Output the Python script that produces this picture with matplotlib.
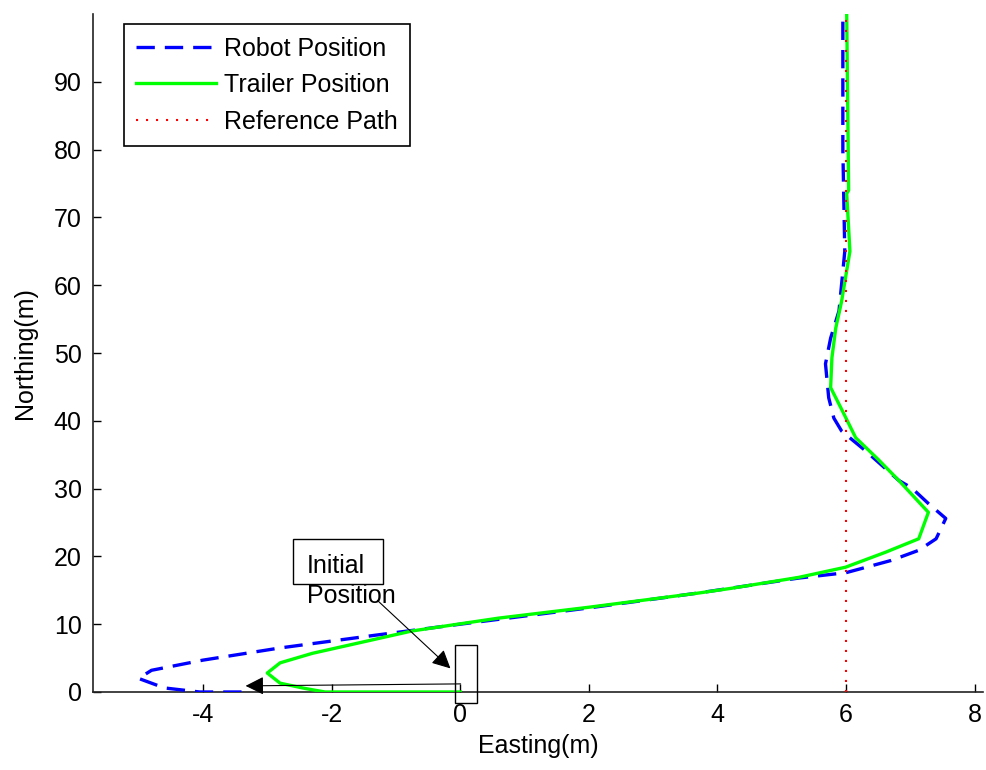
import matplotlib.pyplot as plt
from matplotlib.patches import Rectangle

plt.rcParams["font.family"] = ["Liberation Sans", "DejaVu Sans"]
plt.rcParams["axes.unicode_minus"] = False

# robot (front unit) path
robot_x = [-3.4, -4.05, -4.6, -5.0, -4.8, -4.0, -2.8, -1.3, 0.0, 2.0, 3.7, 5.26, 6.0,
           6.7, 7.13, 7.4, 7.55, 7.28, 7.02, 6.82, 6.3, 5.93, 5.81, 5.73, 5.68, 5.76,
           5.89, 5.93, 5.98, 5.95, 5.95]
robot_y = [0, 0, 0.6, 2.0, 3.2, 4.7, 6.5, 8.4, 10.0, 12.4, 14.6, 16.8, 17.6,
           19.4, 20.9, 22.6, 25.6, 27.8, 30.1, 31.2, 35.6, 38.5, 40.4, 43.4, 48.4, 52.2,
           56.2, 60.1, 65, 80, 100]

# trailer path
trailer_x = [0, -2.1, -2.4, -2.8, -3.0, -2.8, -2.3, -0.75, 0.6, 2.0, 3.71, 4.22, 5.26,
             5.99, 6.61, 7.13, 7.28, 6.82, 6.5, 6.15, 5.92, 5.76, 5.78, 5.84, 5.93,
             6.06, 6.01, 6.04, 6.01]
trailer_y = [0, 0, 0.5, 1.3, 2.8, 4.3, 5.7, 9.0, 10.9, 12.5, 14.6, 15.3, 16.9,
             18.4, 20.6, 22.6, 26.5, 31.2, 34.3, 37.5, 41.9, 44.9, 49.3, 53.7, 57.6,
             65, 73.5, 74, 100]

# reference path
ref_x = [6, 6]
ref_y = [0, 100]

fig = plt.figure(figsize=(9.87, 7.7), dpi=100)
ax = fig.add_axes([0.0942, 0.1013, 0.9018, 0.8805])

ax.plot(robot_x, robot_y, color="#0000ff", lw=2.4, dashes=(5.5, 3),
        label="Robot Position", zorder=3)
ax.plot(trailer_x, trailer_y, color="#00ff00", lw=2.4, label="Trailer Position", zorder=4)
ax.plot(ref_x, ref_y, color="#ff0000", lw=1.5, dashes=(1, 3.8),
        label="Reference Path", zorder=5)

ax.set_xlim(-5.71, 8.13)
ax.set_ylim(0, 100)
ax.set_xticks([-4, -2, 0, 2, 4, 6, 8])
ax.set_yticks(range(0, 100, 10))
ax.tick_params(direction="in", length=6, width=1, labelsize=18, pad=8)
for s in ["top", "right"]:
    ax.spines[s].set_visible(False)
for s in ["left", "bottom"]:
    ax.spines[s].set_linewidth(1.2)
    ax.spines[s].set_color("#222222")

ax.set_xlabel("Easting(m)", fontsize=18, labelpad=5)
ax.set_ylabel("Northing(m)", fontsize=18, labelpad=12)

# initial position marker and notes
ax.add_patch(Rectangle((-0.08, -1.6), 0.34, 8.5, fill=False, ec="black", lw=1,
                       clip_on=False, zorder=6))
ax.add_patch(Rectangle((-2.6, 16.0), 1.4, 6.5, fill=False, ec="black", lw=1,
                       clip_on=False, zorder=6))
ax.text(-2.38, 17.5, "Initial", fontsize=18)
ax.text(-2.38, 13.1, "Position", fontsize=18)
ax.annotate("", xy=(-0.12, 3.2), xytext=(-1.32, 13.8),
            arrowprops=dict(arrowstyle="-|>", color="black", lw=0.8, mutation_scale=28),
            zorder=7)
ax.annotate("", xy=(-3.38, 0.9), xytext=(0.05, 1.2),
            arrowprops=dict(arrowstyle="-|>", color="black", lw=0.8, mutation_scale=28),
            zorder=7)

leg = ax.legend(loc="upper left", bbox_to_anchor=(0.0348, 0.985), borderaxespad=0,
                fontsize=18, fancybox=False, edgecolor="black", framealpha=1,
                handlelength=3.2, handletextpad=0.3, labelspacing=0.5, borderpad=0.5)
leg.get_frame().set_linewidth(1.2)

fig.savefig("out.png", dpi=100)
